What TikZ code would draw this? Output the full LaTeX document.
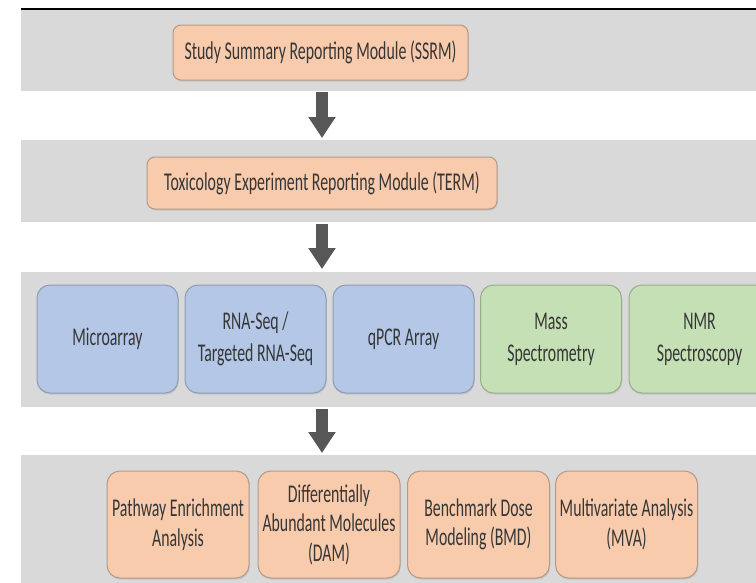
\documentclass[tikz,border=0pt]{standalone}
\usepackage{fontspec}
\setmainfont{Carlito}[FakeStretch=0.62]
\usetikzlibrary{arrows.meta,shadows}

\definecolor{bandgray}{HTML}{D9D9D9}
\definecolor{txtgray}{HTML}{363636}
\definecolor{arrowgray}{HTML}{575757}
\definecolor{peach}{HTML}{F8CBAD}
\definecolor{peachedge}{HTML}{B39A88}
\definecolor{bluefill}{HTML}{B4C7E7}
\definecolor{blueedge}{HTML}{8E9BB3}
\definecolor{greenfill}{HTML}{C5E0B4}
\definecolor{greenedge}{HTML}{98AD8C}

\tikzset{
  band/.style={fill=bandgray, draw=none, anchor=north west, inner sep=0pt},
  boxbase/.style={rounded corners=13pt, line width=1pt, align=center,
    text=txtgray, inner sep=2pt,
    drop shadow={opacity=0.22, shadow xshift=0.8pt, shadow yshift=-1.6pt}},
  module/.style={boxbase, rounded corners=8pt, fill=peach, draw=peachedge,
    font=\fontsize{25.6}{30}\selectfont},
  platform/.style={boxbase, minimum width=141pt, minimum height=108pt,
    font=\fontsize{25.5}{32}\selectfont},
  bluebox/.style={platform, fill=bluefill, draw=blueedge},
  greenbox/.style={platform, fill=greenfill, draw=greenedge},
  analysis/.style={boxbase, fill=peach, draw=peachedge,
    minimum width=142pt, minimum height=107pt,
    font=\fontsize{25.5}{29.5}\selectfont},
  bigarrow/.style={draw=arrowgray, line width=12pt,
    -{Triangle[width=26pt,length=21pt]}, fill=arrowgray}
}

\begin{document}
\begin{tikzpicture}[x=1pt,y=-1pt]
  \useasboundingbox (0,0) rectangle (756,582);
  \clip (0,0) rectangle (756,582);
  \fill[white] (0,0) rectangle (756,582);

  % horizontal bands
  \node[band, minimum width=735pt, minimum height=81pt]  (b1) at (21,10)  {};
  \node[band, minimum width=735pt, minimum height=82pt]  (b2) at (21,140) {};
  \node[band, minimum width=735pt, minimum height=135pt] (b3) at (21,272) {};
  \node[band, minimum width=735pt, minimum height=130pt] (b4) at (21,455) {};
  \coordinate (rl) at (21,9);
  \coordinate (rr) at (756,9);
  \draw[line width=2pt, black] (rl) -- (rr);

  % reporting modules
  \node[module, minimum width=295pt, minimum height=55pt] (ssrm) at (320.5,52.5)
    {Study Summary Reporting Module (SSRM)};
  \node[module, minimum width=350pt, minimum height=52pt] (term) at (322,183)
    {Toxicology Experiment Reporting Module (TERM)};

  % measurement platforms
  \node[bluebox]  (micro) at (107.5,339) {Microarray};
  \node[bluebox]  (rnaseq) at (255.5,339) {RNA-Seq /\\Targeted RNA-Seq};
  \node[bluebox]  (qpcr) at (403.5,339) {qPCR Array};
  \node[greenbox] (mass) at (551,339) {Mass\\Spectrometry};
  \node[greenbox] (nmr) at (699.5,339) {NMR\\Spectroscopy};

  % analyses
  \node[analysis] (path) at (178,524.5) {Pathway Enrichment\\Analysis};
  \node[analysis] (dam)  at (329,524.5) {Differentially\\Abundant Molecules\\(DAM)};
  \node[analysis] (bmd)  at (478.5,524.5) {Benchmark Dose\\Modeling (BMD)};
  \node[analysis] (mva)  at (626.5,524.5) {Multivariate Analysis\\(MVA)};

  % flow arrows between bands
  \coordinate (a1s) at (322,92);  \coordinate (a1e) at (322,138);
  \coordinate (a2s) at (322,224); \coordinate (a2e) at (322,269);
  \coordinate (a3s) at (322,409); \coordinate (a3e) at (322,453);
  \draw[bigarrow] (a1s) -- (a1e);
  \draw[bigarrow] (a2s) -- (a2e);
  \draw[bigarrow] (a3s) -- (a3e);
\end{tikzpicture}
\end{document}
